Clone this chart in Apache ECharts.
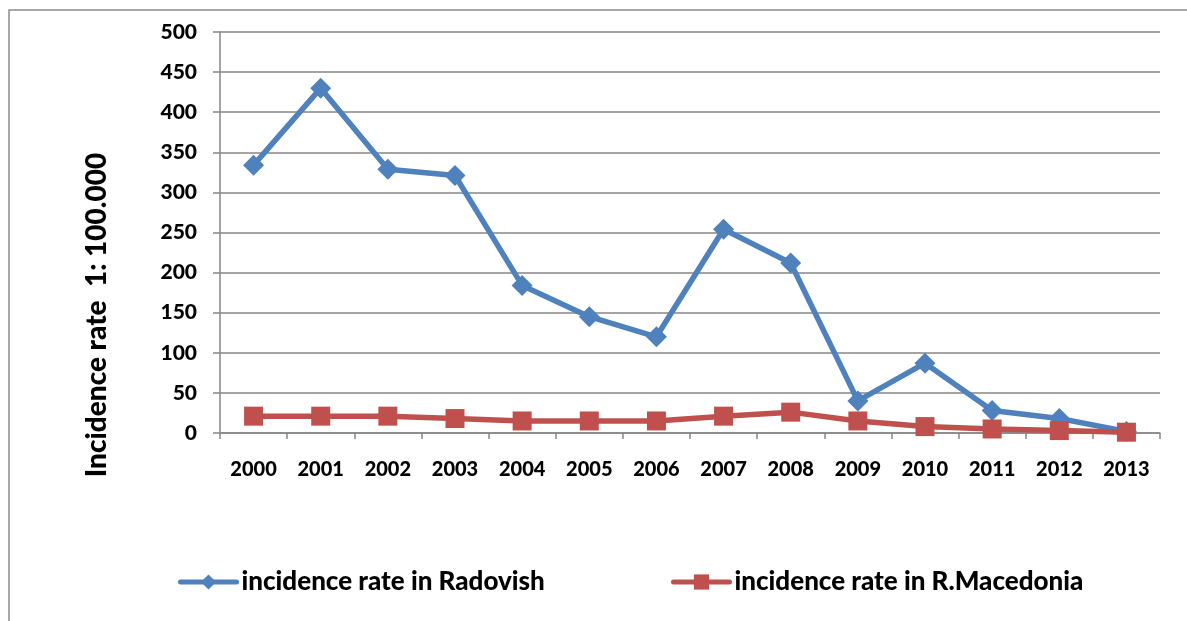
<!DOCTYPE html>
<html>
<head>
<meta charset="utf-8">
<script src="https://cdn.jsdelivr.net/npm/echarts@6/dist/echarts.min.js"></script>
<style>
  html, body { margin: 0; padding: 0; background: #fff; }
  #chart { width: 1187px; height: 621px; }
</style>
</head>
<body>
<div id="chart"></div>
<script>
// Annual incidence per 100 000 inhabitants
const years = ['2000', '2001', '2002', '2003', '2004', '2005', '2006',
               '2007', '2008', '2009', '2010', '2011', '2012', '2013'];
const radovish = [334, 430, 329, 321, 184, 145, 120, 254, 212, 40, 87, 28, 18, 2];
const macedonia = [21, 21, 21, 18, 15, 15, 15, 21, 26, 15, 8, 5, 3, 1];
const yTicks = { min: 0, max: 500, interval: 50 };
const yTitle = 'Incidence rate  1: 100.000';

const seriesNames = ['incidence rate in Radovish', 'incidence rate in R.Macedonia'];
const FONT = 'Lato';
const WEIGHT = 900;
const GRID_GREY = '#868686';
const BLUE = '#4F81BD';
const RED = '#C0504D';

const legendBase = {
  top: 564,
  itemWidth: 56, itemHeight: 19, itemGap: 2,
  lineStyle: { width: 5, cap: 'round' },
  textStyle: { fontFamily: FONT, fontWeight: WEIGHT, fontSize: 26, color: '#000' }
};

const chart = echarts.init(document.getElementById('chart'));
chart.setOption({
  backgroundColor: '#ffffff',
  animation: false,
  graphic: [{
    type: 'rect',
    shape: { x: 9, y: 10, width: 1300, height: 800 },
    style: { fill: 'none', stroke: '#8c8c8c', lineWidth: 1.5 },
    silent: true
  }, {
    // vertical axis title, placed a little below the plot's mid-height
    type: 'text',
    x: 97, y: 315,
    rotation: Math.PI / 2,
    style: {
      text: yTitle,
      fontFamily: FONT, fontWeight: WEIGHT, fontSize: 28, fill: '#000',
      textAlign: 'center', textVerticalAlign: 'middle'
    },
    silent: true
  }],
  grid: { left: 220, right: 27, top: 32, bottom: 188 },
  legend: [
    Object.assign({ data: [seriesNames[0]], left: 173 }, legendBase),
    Object.assign({ data: [seriesNames[1]], left: 666 }, legendBase)
  ],
  xAxis: {
    type: 'category',
    data: years,
    boundaryGap: true,
    axisLine: { lineStyle: { color: GRID_GREY, width: 1.5 } },
    axisTick: { show: true, alignWithLabel: false, length: 6, lineStyle: { color: GRID_GREY, width: 1.5 } },
    axisLabel: { margin: 27, fontFamily: FONT, fontWeight: WEIGHT, fontSize: 20, color: '#000' }
  },
  yAxis: {
    type: 'value',
    min: yTicks.min, max: yTicks.max, interval: yTicks.interval,
    axisLine: { show: true, lineStyle: { color: GRID_GREY, width: 1.5 } },
    axisTick: { show: true, length: 7, lineStyle: { color: GRID_GREY, width: 1.5 } },
    splitLine: { lineStyle: { color: GRID_GREY, width: 1.5 } },
    axisLabel: { margin: 23, fontFamily: FONT, fontWeight: WEIGHT, fontSize: 21, color: '#000' }
  },
  series: [{
    name: seriesNames[0],
    type: 'line',
    data: radovish,
    symbol: 'diamond',
    symbolSize: 21,
    lineStyle: { color: BLUE, width: 5.5 },
    itemStyle: { color: BLUE },
    z: 3
  }, {
    name: seriesNames[1],
    type: 'line',
    data: macedonia,
    symbol: 'rect',
    symbolSize: 19,
    lineStyle: { color: RED, width: 5.5 },
    itemStyle: { color: RED },
    z: 4
  }]
});
</script>
</body>
</html>
